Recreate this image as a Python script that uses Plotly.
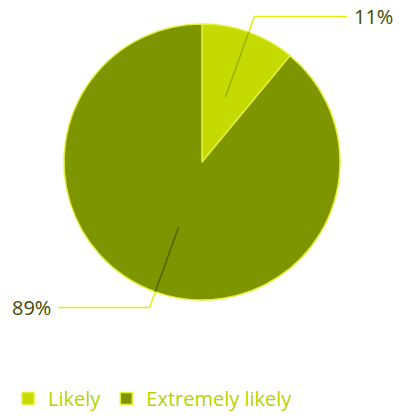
import math
import plotly.graph_objects as go

categories = ["Likely", "Extremely likely"]
values = [11, 89]
colors = ["#c5da00", "#7d9600"]

W, H = 402, 418
cx, cy, r = 202, 162, 138  # pie centre and radius in pixels

fig = go.Figure(go.Pie(
    labels=categories,
    values=values,
    sort=False,
    direction="clockwise",
    rotation=0,
    textinfo="none",
    hoverinfo="label+percent",
    marker=dict(colors=colors, line=dict(color="#e4f03c", width=1.5)),
    domain=dict(x=[(cx - r) / W, (cx + r) / W], y=[1 - (cy + r) / H, 1 - (cy - r) / H]),
))

def px(x, y):
    return x / W, 1 - y / H

shapes, annotations = [], []
total = sum(values)
cum = 0
for i, v in enumerate(values):
    mid = (cum + v / 2) / total * 2 * math.pi
    cum += v
    sx, sy = math.sin(mid), -math.cos(mid)
    p0 = (cx + 0.5 * r * sx, cy + 0.5 * r * sy)
    p1 = (cx + r * sx, cy + r * sy)
    p2 = (cx + 1.12 * r * sx, cy + 1.12 * r * sy)
    right = sx >= 0
    p3 = (347 if right else 58, p2[1])
    inner = "#9ab000" if i == 0 else "#4f6200"
    for a, b, c in [(p0, p1, inner), (p1, p2, "#e2ee10"), (p2, p3, "#e2ee10")]:
        x0, y0 = px(*a)
        x1, y1 = px(*b)
        shapes.append(dict(type="line", xref="paper", yref="paper",
                           x0=x0, y0=y0, x1=x1, y1=y1,
                           line=dict(color=c, width=1.5)))
    lx, ly = px(p3[0] + (5 if right else -5), p3[1])
    annotations.append(dict(
        x=lx, y=ly, xref="paper", yref="paper", showarrow=False,
        text=f"{round(v / total * 100)}%",
        xanchor="left" if right else "right", yanchor="middle",
        font=dict(family="Open Sans", size=20, color="#3f4a00"),
    ))

fig.update_layout(
    width=W, height=H,
    margin=dict(l=0, r=0, t=0, b=0),
    paper_bgcolor="white",
    plot_bgcolor="white",
    shapes=shapes,
    annotations=annotations,
    showlegend=True,
    legend=dict(orientation="h", x=0.02, y=0, xanchor="left", yanchor="bottom",
                font=dict(family="Open Sans", size=20, color="#b8d200"),
                itemwidth=30, traceorder="normal"),
)

fig.write_html("out.html")
